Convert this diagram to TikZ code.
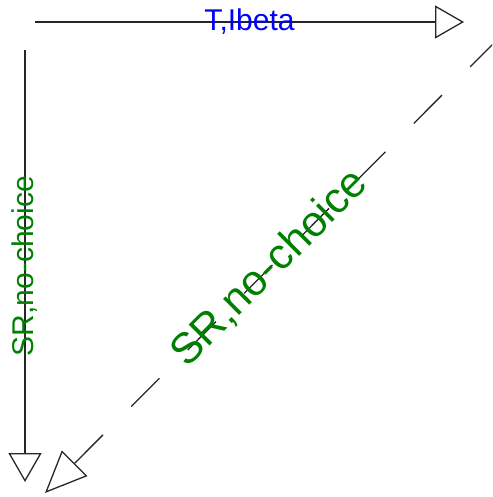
\documentclass[tikz,border=0pt]{standalone}
\usepackage{fontspec}
\setmainfont{Liberation Sans}
\usetikzlibrary{arrows.meta}
\definecolor{lblblue}{RGB}{0,0,255}
\definecolor{lblgreen}{RGB}{0,128,0}
\begin{document}
\begin{tikzpicture}[x=1pt,y=-1pt,
  conn/.style={draw=black!85, line width=1.3pt},
  headsmall/.style={-{Triangle[open,length=29pt,width=33pt,line width=1.3pt]}},
  headbig/.style={-{Triangle[open,length=42pt,width=36pt,line width=1.3pt]}},
  lblsmall/.style={font=\fontsize{30}{33}\selectfont, inner sep=0pt},
  lblbig/.style={font=\fontsize{43}{47}\selectfont, inner sep=0pt}]
\useasboundingbox (0,0) rectangle (492,497);
\clip (0,0) rectangle (492,497);
\coordinate (hs) at (35,22);
\coordinate (he) at (464,22);
\coordinate (vs) at (25,50);
\coordinate (ve) at (25,482);
\coordinate (ds) at (498.5,38.5);
\coordinate (de) at (45,493);
\draw[conn, headsmall] (hs) -- node[lblsmall, text=lblblue] (lh) {T,Ibeta} (he);
\draw[conn, headsmall] (vs) -- node[lblsmall, text=lblgreen, rotate=90] (lv) {SR,no-choice} (ve);
\draw[conn, headbig, dash pattern=on 40pt off 40pt] (ds) -- node[pos=0.505, lblbig, text=lblgreen, rotate=45] (ld) {SR,no-choice} (de);
\end{tikzpicture}
\end{document}
